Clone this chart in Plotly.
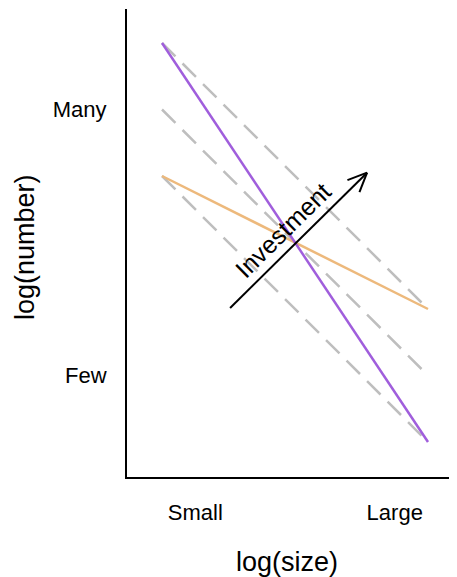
import numpy as np
import plotly.graph_objects as go

# ---- data ----
size_x = [0.0, 1.0]                     # log(size): small -> large
steep_y = [1.0, 0.0]                    # purple line
shallow_y = [2/3, 1/3]                  # orange line
iso_starts = [1.0, 5/6, 2/3]            # grey dashed reference lines (start)
iso_ends = [1/3, 1/6, 0.0]              # grey dashed reference lines (end)
x_tick_vals = [0.125, 0.875]
x_tick_text = ["Small", "Large"]
y_tick_vals = [5/6, 1/6]
y_tick_text = ["Many", "Few"]
arrow_start = (0.256, 0.336)
arrow_end = (0.771, 0.675)
arrow_label = "Investment"

FONT = "Liberation Sans, Arial, sans-serif"
PAD = 8  # default page body margin
W, H = 457 - PAD, 577 - PAD
L, R, T, B = 127 - PAD, 0, 9 - PAD, 100
xr = [-0.1316, 1.109]
yr = [-0.0877, 1.0852]
pw, ph = W - L - R, H - T - B
sx = pw / (xr[1] - xr[0])   # px per x unit
sy = ph / (yr[1] - yr[0])   # px per y unit

fig = go.Figure()

for y0, y1 in zip(iso_starts, iso_ends):
    fig.add_trace(go.Scatter(x=size_x, y=[y0, y1], mode="lines",
                             line=dict(color="#BEBEBE", width=2.5, dash="19px,10px"),
                             hoverinfo="skip", showlegend=False))

fig.add_trace(go.Scatter(x=size_x, y=shallow_y, mode="lines",
                         line=dict(color="#EDB97C", width=2.5),
                         showlegend=False))
fig.add_trace(go.Scatter(x=size_x, y=steep_y, mode="lines",
                         line=dict(color="#A05EDC", width=2.5),
                         showlegend=False))

# arrow shaft
fig.add_trace(go.Scatter(x=[arrow_start[0], arrow_end[0]],
                         y=[arrow_start[1], arrow_end[1]], mode="lines",
                         line=dict(color="black", width=2), showlegend=False))

# open arrowhead computed in pixel space
dxp = (arrow_end[0] - arrow_start[0]) * sx
dyp = (arrow_end[1] - arrow_start[1]) * sy
ang = np.arctan2(dyp, dxp)
hl = 21.0
hx, hy = [], []
for da in (np.radians(24), -np.radians(24)):
    a = ang + np.pi + da
    hx += [arrow_end[0] + hl * np.cos(a) / sx, arrow_end[0], None]
    hy += [arrow_end[1] + hl * np.sin(a) / sy, arrow_end[1], None]
fig.add_trace(go.Scatter(x=hx, y=hy, mode="lines",
                         line=dict(color="black", width=2), showlegend=False))

# label above arrow
mx = (arrow_start[0] + arrow_end[0]) / 2
my = (arrow_start[1] + arrow_end[1]) / 2
off = 18.0
nxp, nyp = -np.sin(ang), np.cos(ang)
lx = mx + (off * nxp - 4 * np.cos(ang)) / sx
ly = my + (off * nyp - 4 * np.sin(ang)) / sy
fig.add_annotation(x=lx, y=ly, text=arrow_label, showarrow=False,
                   xanchor="center", yanchor="middle",
                   textangle=-np.degrees(ang), font=dict(size=25, color="black", family=FONT))

fig.add_annotation(xref="paper", yref="paper", x=(287 - 127) / pw, y=(477 - 562) / ph,
                   xanchor="center", yanchor="middle",
                   text="log(size)", showarrow=False,
                   font=dict(size=27, color="black", family=FONT))
fig.add_annotation(xref="paper", yref="paper", x=(25 - 127) / pw, y=(477 - 247) / ph,
                   xanchor="center", yanchor="middle",
                   text="log(number)", showarrow=False, textangle=-90,
                   font=dict(size=27, color="black", family=FONT))

fig.update_xaxes(range=xr, showgrid=False, zeroline=False, showline=True,
                 linecolor="black", linewidth=2, tickvals=x_tick_vals, ticktext=x_tick_text,
                 ticks="outside", ticklen=15, tickcolor="rgba(0,0,0,0)",
                 tickfont=dict(size=22, color="black", family=FONT))
fig.update_yaxes(range=yr, showgrid=False, zeroline=False, showline=True,
                 linecolor="black", linewidth=2, tickvals=y_tick_vals, ticktext=y_tick_text,
                 ticks="outside", ticklen=14, tickcolor="rgba(0,0,0,0)",
                 tickfont=dict(size=22, color="black", family=FONT))

fig.update_layout(width=W, height=H, margin=dict(l=L, r=R, t=T, b=B),
                  paper_bgcolor="white", plot_bgcolor="white")

fig.write_html("out.html")
